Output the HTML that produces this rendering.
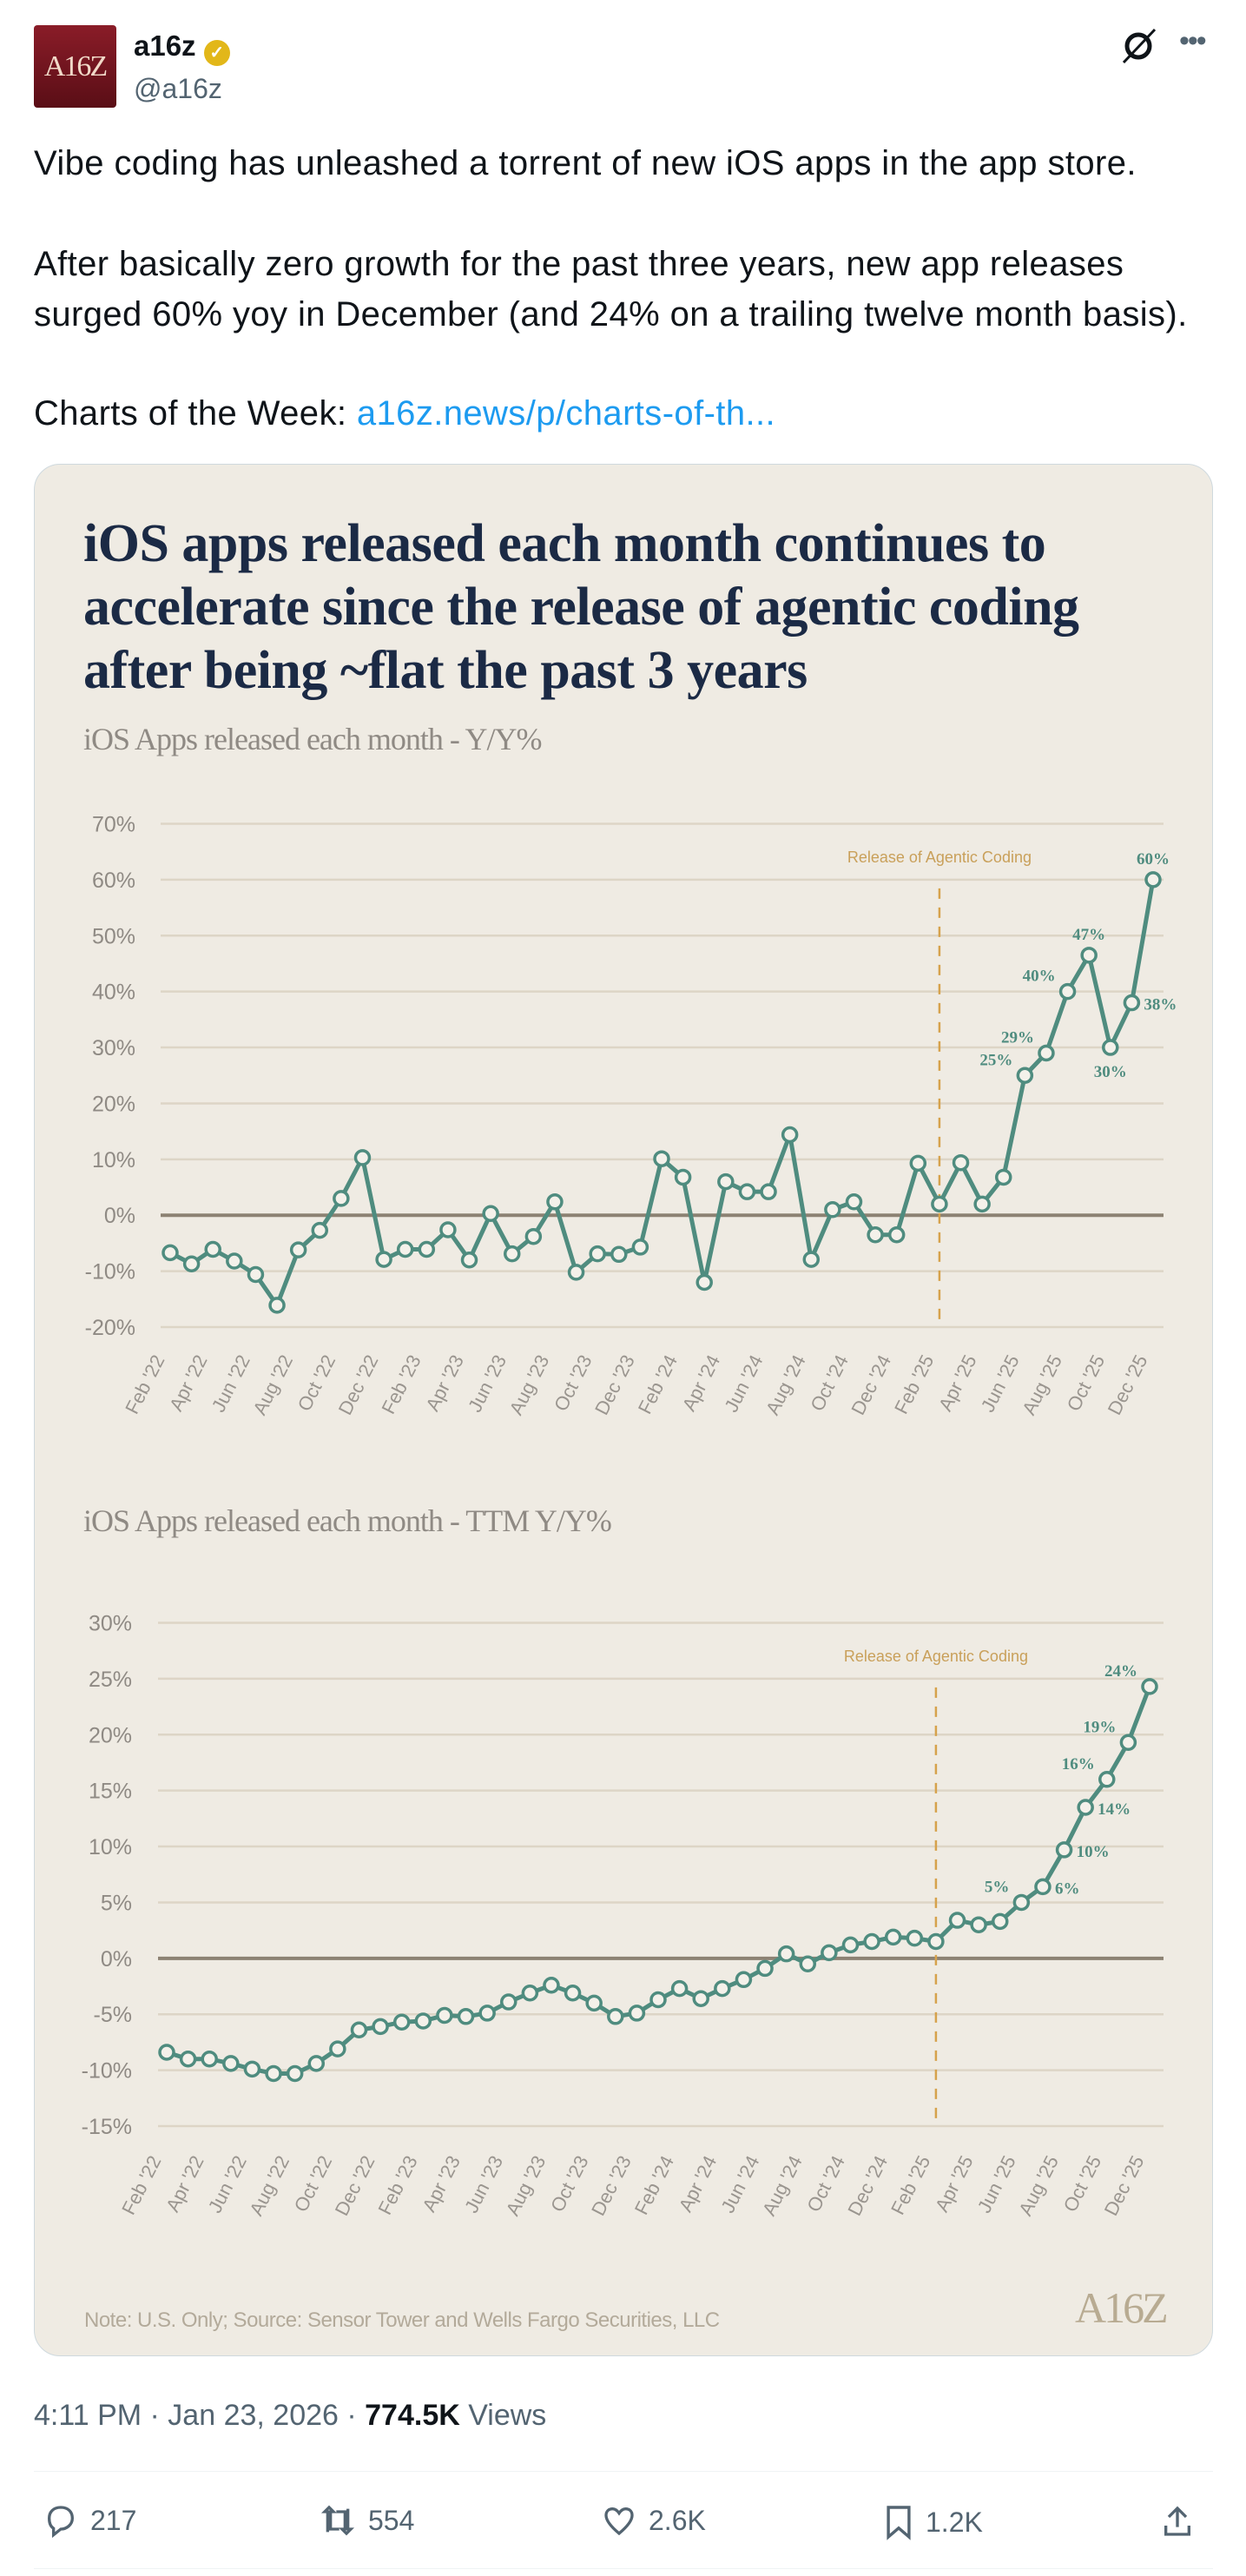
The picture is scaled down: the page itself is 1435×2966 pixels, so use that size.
<!DOCTYPE html>
<html><head><meta charset="utf-8">
<style>
html,body{margin:0;padding:0;background:#fff;}
body{width:1435px;height:2966px;position:relative;overflow:hidden;font-family:"Liberation Sans",sans-serif;color:#0f1419;}
.abs{position:absolute;}
.body-text{font-size:40px;line-height:58px;left:39px;white-space:nowrap;letter-spacing:0.4px;}
.act{position:absolute;top:2882px;font-size:32px;color:#536471;display:flex;align-items:center;gap:14px;}
</style></head><body>
<div class="abs" style="left:39px;top:29px;width:95px;height:95px;border-radius:4px;background:linear-gradient(#8a1c28,#5a0e16);color:#f1d9c8;font-family:'Liberation Serif',serif;font-size:34px;display:flex;align-items:center;justify-content:center;letter-spacing:-2px;">A16Z</div>
<div class="abs" style="left:154px;top:34px;font-size:33px;font-weight:bold;">a16z <span style="display:inline-block;width:30px;height:30px;border-radius:50%;background:#e2b719;color:#fff;font-size:20px;text-align:center;line-height:30px;vertical-align:-3px;">✓</span></div>
<div class="abs" style="left:154px;top:84px;font-size:32px;color:#536471;">@a16z</div>
<svg class="abs" style="left:1288px;top:30px" width="46" height="46" viewBox="0 0 46 46"><circle cx="23" cy="23" r="13" fill="none" stroke="#0f1419" stroke-width="5"/><line x1="6" y1="42" x2="42" y2="4" stroke="#0f1419" stroke-width="3"/></svg>
<div class="abs" style="left:1358px;top:28px;font-size:34px;color:#536471;letter-spacing:-2px;">•••</div>

<div class="abs body-text" style="top:159px;">Vibe coding has unleashed a torrent of new iOS apps in the app store.</div>
<div class="abs body-text" style="top:275px;">After basically zero growth for the past three years, new app releases<br>surged 60% yoy in December (and 24% on a trailing twelve month basis).</div>
<div class="abs body-text" style="top:447px;">Charts of the Week: <span style="color:#1d9bf0;">a16z.news/p/charts-of-th...</span></div>

<div class="abs" style="left:39px;top:534px;width:1356px;height:2177px;background:#efebe3;border:1px solid #cfd9de;border-radius:30px;"></div>
<div class="abs" style="left:96px;top:590px;font-family:'Liberation Serif',serif;font-weight:bold;font-size:62px;line-height:73px;color:#1b2a45;letter-spacing:-0.5px;white-space:nowrap;">iOS apps released each month continues to<br>accelerate since the release of agentic coding<br>after being ~flat the past 3 years</div>
<div class="abs" style="left:96px;top:830px;font-family:'Liberation Serif',serif;font-size:36px;color:#8f8a84;letter-spacing:-1px;">iOS Apps released each month - Y/Y%</div>
<div class="abs" style="left:96px;top:1730px;font-family:'Liberation Serif',serif;font-size:36px;color:#8f8a84;letter-spacing:-1px;">iOS Apps released each month - TTM Y/Y%</div>
<div class="abs" style="left:97px;top:2658px;font-size:24px;color:#b3aa9a;letter-spacing:-0.5px;">Note: U.S. Only; Source: Sensor Tower and Wells Fargo Securities, LLC</div>
<div class="abs" style="left:1238px;top:2628px;font-family:'Liberation Serif',serif;font-size:50px;color:#b8ab92;letter-spacing:-3px;">A16Z</div>

<svg id="charts" class="abs" style="left:0;top:0" width="1435" height="2966"></svg>

<div class="abs" style="left:39px;top:2762px;font-size:34px;color:#536471;">4:11 PM · Jan 23, 2026 · <b style="color:#0f1419">774.5K</b> Views</div>
<div class="abs" style="left:39px;top:2845px;width:1358px;height:1px;background:#eff3f4;"></div>
<div class="act" style="left:50px;"><svg width="40" height="40" viewBox="0 0 24 24"><path d="M12 3c5 0 8 3 8 7.5S16 18 12 18l-5 4v-4.5C4.5 16 4 13 4 10.5 4 6 7 3 12 3z" fill="none" stroke="#536471" stroke-width="2"/></svg>217</div>
<div class="act" style="left:368px;"><svg width="42" height="40" viewBox="0 0 24 24"><path d="M5 20V6H3l3-3 3 3H7v12h6M19 4v14h2l-3 3-3-3h2V6h-6" fill="none" stroke="#536471" stroke-width="2"/></svg>554</div>
<div class="act" style="left:693px;"><svg width="40" height="40" viewBox="0 0 24 24"><path d="M12 21C6 16 3 12 3 8.5 3 5.5 5 4 7.5 4c2 0 3.5 1.5 4.5 3 1-1.5 2.5-3 4.5-3C19 4 21 5.5 21 8.5 21 12 18 16 12 21z" fill="none" stroke="#536471" stroke-width="2"/></svg>2.6K</div>
<div class="act" style="left:1018px;"><svg width="34" height="44" viewBox="0 0 20 24"><path d="M3 2h14v20l-7-6-7 6z" fill="none" stroke="#536471" stroke-width="2"/></svg>1.2K</div>
<div class="act" style="left:1336px;"><svg width="40" height="42" viewBox="0 0 24 24"><path d="M12 3v13M6 9l6-6 6 6M4 15v6h16v-6" fill="none" stroke="#536471" stroke-width="2"/></svg></div>
<div class="abs" style="left:39px;top:2957px;width:1358px;height:1px;background:#eff3f4;"></div>

<script>
const months = ["Feb '22","Apr '22","Jun '22","Aug '22","Oct '22","Dec '22","Feb '23","Apr '23","Jun '23","Aug '23","Oct '23","Dec '23","Feb '24","Apr '24","Jun '24","Aug '24","Oct '24","Dec '24","Feb '25","Apr '25","Jun '25","Aug '25","Oct '25","Dec '25"];
const yoyValues = [-6.7,-8.7,-6.1,-8.2,-10.6,-16.1,-6.2,-2.7,3.0,10.3,-7.9,-6.1,-6.1,-2.6,-8.0,0.3,-6.9,-3.8,2.4,-10.2,-6.9,-7.0,-5.7,10.1,6.8,-12.0,6.0,4.2,4.2,14.4,-7.9,1.0,2.4,-3.5,-3.5,9.3,2.0,9.4,2.0,6.8,25,29,40,46.5,30,38,60];
const ttmValues = [-8.4,-9.0,-9.0,-9.4,-9.9,-10.3,-10.3,-9.4,-8.1,-6.4,-6.1,-5.7,-5.6,-5.1,-5.2,-4.9,-3.9,-3.1,-2.4,-3.1,-4.0,-5.2,-4.9,-3.7,-2.7,-3.6,-2.7,-1.9,-0.9,0.4,-0.5,0.5,1.2,1.5,1.9,1.8,1.5,3.4,3.0,3.3,5.0,6.4,9.7,13.5,16.0,19.3,24.3];
const yoyTicks = [70,60,50,40,30,20,10,0,-10,-20];
const ttmTicks = [30,25,20,15,10,5,0,-5,-10,-15];
const yoyLabels = [[40,"25%","l"],[41,"29%","l"],[42,"40%","l"],[43,"47%","a"],[44,"30%","b"],[45,"38%","r"],[46,"60%","a"]];
const ttmLabels = [[40,"5%","l"],[41,"6%","r"],[42,"10%","r"],[43,"14%","r"],[44,"16%","l"],[45,"19%","l"],[46,"24%","l"]];
const agenticIndex = 36;

const svg = document.getElementById('charts');
const NS = 'http://www.w3.org/2000/svg';
function mk(tag, attrs){const e=document.createElementNS(NS,tag);for(const k in attrs)e.setAttribute(k,attrs[k]);svg.appendChild(e);return e;}

function drawChart(cfg){
  const {values,ticks,labels,x0,x1,yTop,yBot,gx0,gx1,tickX,xlabY,prefix} = cfg;
  const vmax=ticks[0], vmin=ticks[ticks.length-1];
  const y = v => yTop + (vmax-v)/(vmax-vmin)*(yBot-yTop);
  const x = i => x0 + i*(x1-x0)/(values.length-1);
  ticks.forEach(t=>{
    const g=mk('line',{x1:gx0,x2:gx1,y1:y(t),y2:y(t),stroke:t===0?'#8c8273':'#ddd5c6','stroke-width':t===0?4:2.5});
    
    
    const tl=mk('text',{x:tickX,y:y(t)+9,'text-anchor':'end','font-size':25,fill:'#8f8a84','font-family':'Liberation Sans, sans-serif'});
    tl.textContent=t+'%';
    
    
  });
  const ax=x(agenticIndex);
  const d=mk('line',{x1:ax,x2:ax,y1:y(ticks[1])+10,y2:yBot,stroke:'#d6a24c','stroke-width':2.5,'stroke-dasharray':'12 10'});
  
  
  const at=mk('text',{x:ax,y:y(ticks[1])-20,'text-anchor':'middle','font-size':18,fill:'#c9a05a','font-family':'Liberation Sans, sans-serif'});
  at.textContent='Release of Agentic Coding';
  
  
  const pts=values.map((v,i)=>x(i)+','+y(v)).join(' ');
  const pl=mk('polyline',{points:pts,fill:'none',stroke:'#4f8c7f','stroke-width':5,'stroke-linejoin':'round'});
  
  
  values.forEach((v,i)=>{
    const c=mk('circle',{cx:x(i),cy:y(v),r:8,fill:'#f4f1ea',stroke:'#4f8c7f','stroke-width':3.5});
    
    
  });
  labels.forEach(([i,txt,pos])=>{
    let tx=x(i), ty=y(values[i]), anchor='middle';
    if(pos==='l'){tx-=14;ty-=12;anchor='end';}
    if(pos==='r'){tx+=14;ty+=8;anchor='start';}
    if(pos==='a'){ty-=18;}
    if(pos==='b'){ty+=34;}
    const l=mk('text',{x:tx,y:ty,'text-anchor':anchor,'font-size':19,'font-weight':'bold',fill:'#4f8c7f','font-family':'Liberation Serif, serif'});
    l.textContent=txt;
    
    
  });
  months.forEach((m,k)=>{
    const lx=x(k*2)-6;
    const t=mk('text',{x:lx,y:xlabY,'text-anchor':'end','font-size':22,fill:'#9a958f','font-family':'Liberation Sans, sans-serif',transform:`rotate(-63 ${lx} ${xlabY})`});
    t.textContent=m;
    
    
  });
}
drawChart({values:yoyValues,ticks:yoyTicks,labels:yoyLabels,x0:196,x1:1328,yTop:948.5,yBot:1528,gx0:185,gx1:1340,tickX:156,xlabY:1565,prefix:'yoy'});
drawChart({values:ttmValues,ticks:ttmTicks,labels:ttmLabels,x0:192,x1:1324,yTop:1868.5,yBot:2448,gx0:182,gx1:1340,tickX:152,xlabY:2487,prefix:'ttm'});
</script>
</body></html>
